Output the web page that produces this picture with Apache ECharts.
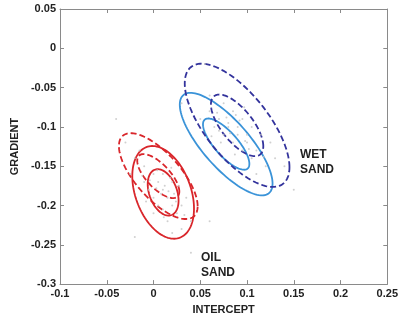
<!DOCTYPE html>
<html><head><meta charset="utf-8">
<script src="https://cdn.jsdelivr.net/npm/echarts@6/dist/echarts.min.js"></script>
<style>html,body{margin:0;padding:0;background:#fff}#c{width:401px;height:320px}</style>
</head><body><div id="c"></div>
<script>
// Axis ticks
var xTicks = [-0.1, -0.05, 0, 0.05, 0.1, 0.15, 0.2, 0.25];
var yTicks = [-0.3, -0.25, -0.2, -0.15, -0.1, -0.05, 0, 0.05];

// Ellipse contours: [centerX, centerY, halfWidthX, halfHeightY, correlation]
var oilSandDashed = [[0.0051, -0.1626, 0.0421, 0.0546, -0.70], [0.0051, -0.1626, 0.0225, 0.0280, -0.70]];
var oilSandSolid  = [[0.0103, -0.1833, 0.0330, 0.0590, -0.35], [0.0103, -0.1833, 0.0165, 0.0295, -0.35]];
var wetSandDashed = [[0.0894, -0.0980, 0.0560, 0.0784, -0.68], [0.0894, -0.0980, 0.0280, 0.0392, -0.68]];
var wetSandSolid  = [[0.0777, -0.1219, 0.0496, 0.0652, -0.77], [0.0777, -0.1219, 0.0248, 0.0326, -0.77]];

// Faint sample points
var samplePoints = [
 [-0.02,-0.14],[-0.01,-0.15],[0.0,-0.16],[0.005,-0.17],[0.01,-0.18],[0.015,-0.19],[0.02,-0.2],[0.0,-0.19],
 [-0.005,-0.18],[0.01,-0.16],[0.02,-0.17],[0.025,-0.21],[0.03,-0.2],[0.015,-0.22],[0.005,-0.2],[-0.01,-0.17],
 [0.012,-0.175],[0.008,-0.185],[0.018,-0.165],[0.022,-0.185],[0.0,-0.21],[0.03,-0.23],[0.02,-0.235],[-0.015,-0.13],
 [0.035,-0.19],[-0.025,-0.16],[0.01,-0.205],[0.004,-0.155],[0.027,-0.175],[-0.008,-0.195],[0.04,-0.22],[-0.03,-0.12],
 [-0.012,-0.162],[0.003,-0.178],[0.016,-0.182],[0.024,-0.195],[0.011,-0.215],[-0.004,-0.168],[0.019,-0.152],[0.033,-0.212],
 [0.06,-0.08],[0.07,-0.09],[0.08,-0.1],[0.09,-0.11],[0.1,-0.12],[0.11,-0.13],[0.075,-0.07],[0.085,-0.08],
 [0.095,-0.09],[0.105,-0.1],[0.115,-0.11],[0.065,-0.1],[0.075,-0.11],[0.085,-0.12],[0.095,-0.13],[0.105,-0.14],
 [0.08,-0.095],[0.09,-0.1],[0.07,-0.105],[0.1,-0.11],[0.12,-0.15],[0.13,-0.14],[0.06,-0.06],[0.05,-0.09],
 [0.11,-0.16],[0.125,-0.12],[0.088,-0.085],[0.072,-0.12],[0.098,-0.118],[0.078,-0.088],[0.14,-0.15],[0.055,-0.02],
 [0.068,-0.082],[0.082,-0.108],[0.092,-0.092],[0.102,-0.128],[0.062,-0.112],[0.118,-0.138],[0.087,-0.135],[0.097,-0.075],
 [-0.04,-0.09],[0.03,-0.07],[0.15,-0.18],[0.06,-0.22],[-0.02,-0.24],[0.04,-0.26]
];

function ellipseSeries(params, color, dashed) {
  return {
    type: 'custom',
    coordinateSystem: 'cartesian2d',
    clip: true,
    silent: true,
    data: params,
    encode: {x: 0, y: 1},
    renderItem: function (p, api) {
      var cx = api.value(0), cy = api.value(1), hx = api.value(2), hy = api.value(3), r = api.value(4);
      var s = Math.sqrt(1 - r * r);
      var pts = [];
      for (var i = 0; i < 120; i++) {
        var t = i / 120 * Math.PI * 2;
        pts.push(api.coord([cx + hx * Math.cos(t), cy + hy * (r * Math.cos(t) + s * Math.sin(t))]));
      }
      return {
        type: 'polygon',
        shape: {points: pts},
        style: {fill: 'none', stroke: color, lineWidth: 1.8, lineDash: dashed ? [6, 3] : null}
      };
    }
  };
}

var labelStyle = {color: '#222', fontSize: 11, fontWeight: 'bold', fontFamily: 'Liberation Sans, Arial, sans-serif'};
var axisLineStyle = {onZero: false, lineStyle: {color: '#8a8a8a', width: 1}};
var tickStyle = {show: true, inside: true, length: 4, lineStyle: {color: '#8a8a8a'}};

function fmt(v) { return String(Math.round(v * 100) / 100); }

var chart = echarts.init(document.getElementById('c'), null, {renderer: 'canvas'});
chart.setOption({
  animation: false,
  backgroundColor: '#fff',
  grid: {left: 60, top: 9, right: 13, bottom: 32},
  xAxis: [{
    type: 'value', min: xTicks[0], max: xTicks[xTicks.length - 1], interval: 0.05,
    name: 'INTERCEPT', nameLocation: 'middle', nameGap: 17,
    nameTextStyle: labelStyle,
    axisLine: axisLineStyle, axisTick: tickStyle, splitLine: {show: false},
    axisLabel: Object.assign({margin: 4, formatter: fmt}, labelStyle)
  }, {
    type: 'value', position: 'top', min: xTicks[0], max: xTicks[xTicks.length - 1], interval: 0.05,
    axisLine: axisLineStyle, axisTick: tickStyle, splitLine: {show: false}, axisLabel: {show: false}
  }],
  yAxis: [{
    type: 'value', min: yTicks[0], max: yTicks[yTicks.length - 1], interval: 0.05,
    name: 'GRADIENT', nameLocation: 'middle', nameGap: 33, nameRotate: 90,
    nameTextStyle: labelStyle,
    axisLine: axisLineStyle, axisTick: tickStyle, splitLine: {show: false},
    axisLabel: Object.assign({margin: 4, formatter: fmt}, labelStyle)
  }, {
    type: 'value', position: 'right', min: yTicks[0], max: yTicks[yTicks.length - 1], interval: 0.05,
    axisLine: axisLineStyle, axisTick: tickStyle, splitLine: {show: false}, axisLabel: {show: false}
  }],
  series: [
    {type: 'scatter', data: samplePoints, symbolSize: 2, itemStyle: {color: '#c4c4c4'}, silent: true},
    ellipseSeries(oilSandDashed, '#d9262b', true),
    ellipseSeries(oilSandSolid, '#d9262b', false),
    ellipseSeries(wetSandSolid, '#3a93d8', false),
    ellipseSeries(wetSandDashed, '#33339c', true)
  ],
  graphic: [
    {type: 'text', left: 300, top: 147, style: {text: 'WET\nSAND', lineHeight: 15, fill: '#222', font: 'bold 12px Liberation Sans, Arial, sans-serif'}},
    {type: 'text', left: 201, top: 250, style: {text: 'OIL\nSAND', lineHeight: 15, fill: '#222', font: 'bold 12px Liberation Sans, Arial, sans-serif'}}
  ]
});
</script>
</body></html>
